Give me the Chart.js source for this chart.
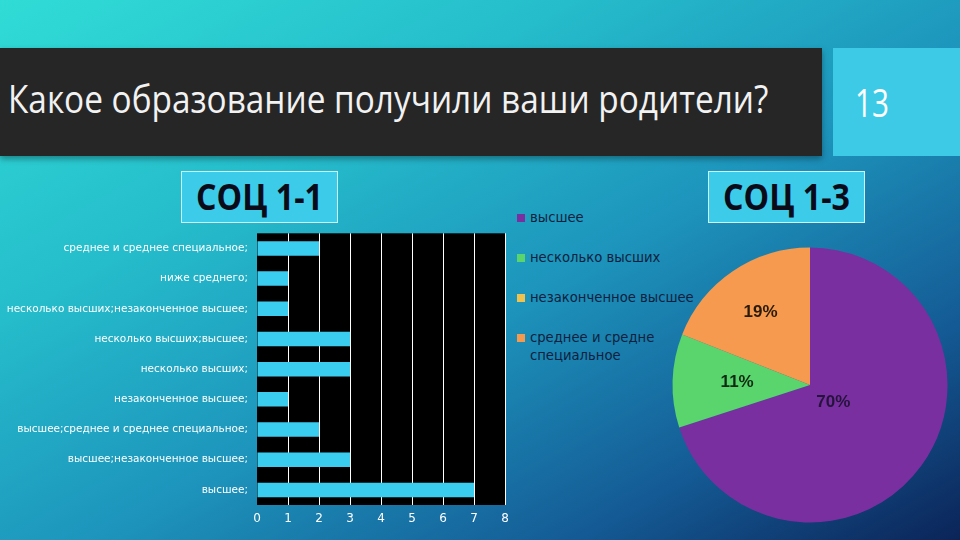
<!DOCTYPE html>
<html>
<head>
<meta charset="utf-8">
<script src="https://cdn.jsdelivr.net/npm/chart.js@4.4.0/dist/chart.umd.min.js"></script>
<style>
  html,body{margin:0;padding:0;}
  body{width:960px;height:540px;overflow:hidden;position:relative;
    background:linear-gradient(to bottom right,#30dcd6 0%,#25bccb 30%,#1d94bc 55%,#145a94 80%,#0b2458 100%);
    font-family:"DejaVu Sans",sans-serif;}
  #titlebar{position:absolute;left:0;top:48px;width:822px;height:108px;background:#262626;
    box-shadow:0 3px 6px rgba(0,0,0,0.35);}
  #title{position:absolute;left:8px;top:72px;color:#f2f2f2;font-family:"Open Sans",sans-serif;font-size:38px;line-height:normal;
    white-space:nowrap;transform:scaleX(0.878);transform-origin:0 0;}
  #numbox{position:absolute;left:833px;top:48px;width:127px;height:108px;background:#3ccae6;}
  #num{position:absolute;left:855px;top:76px;color:#ffffff;font-family:"Open Sans",sans-serif;font-size:38px;line-height:normal;
    transform:scaleX(0.78);transform-origin:0 0;}
  .tag{position:absolute;top:171px;width:155px;height:50px;background:#3ccbe8;border:1px solid rgba(255,255,255,0.75);}
  .tagt{position:absolute;left:0;top:0;width:155px;height:50px;line-height:50px;text-align:center;
    color:#0a0a18;font-family:"Open Sans",sans-serif;font-weight:700;font-size:35px;transform:scaleX(0.92);}
  #legend{position:absolute;left:517px;top:209px;}
  .li{position:relative;height:40px;}
  .sw{position:absolute;left:0;top:5px;width:8px;height:8px;}
  .lt{position:absolute;left:13px;top:0;width:175px;color:#0c1f3e;font-size:13.2px;line-height:18px;}
  #barwrap{position:absolute;left:0;top:218px;width:520px;height:322px;}
  #piewrap{position:absolute;left:665px;top:240px;width:290px;height:290px;}
</style>
</head>
<body>
<div id="titlebar"></div>
<div id="title">Какое образование получили ваши родители?</div>
<div id="numbox"></div>
<div id="num">13</div>
<div class="tag" style="left:181px;"><div class="tagt">СОЦ 1-1</div></div>
<div class="tag" style="left:708px;"><div class="tagt">СОЦ 1-3</div></div>
<div id="legend"></div>
<div id="barwrap"><canvas id="bar"></canvas></div>
<div id="piewrap"><canvas id="pie"></canvas></div>
<script>
// ---- data: СОЦ 1-1 (bar) ----
const barCategories = [
  'среднее и среднее специальное;',
  'ниже среднего;',
  'несколько высших;незаконченное высшее;',
  'несколько высших;высшее;',
  'несколько высших;',
  'незаконченное высшее;',
  'высшее;среднее и среднее специальное;',
  'высшее;незаконченное высшее;',
  'высшее;'
];
const barValues = [2, 1, 1, 3, 3, 1, 2, 3, 7];
const barAxisMin = 0;
const barAxisMax = 8;
const barAxisStep = 1;

// ---- data: СОЦ 1-3 (pie) ----
const pieLabels = ['высшее', 'несколько высших', 'незаконченное высшее', 'среднее и средне специальное'];
const pieValues = [70, 11, 0, 19];
const pieValueLabels = ['70%', '11%', '', '19%'];

// styles
const pieColors = ['#7a2fa0', '#5ad46c', '#f2c24e', '#f59a4e'];
const pieLabelColors = ['#24143c', '#0e2a12', '#2a1a08', '#2a1a08'];
const pieLabelRadius = [0.21, 0.53, 0.5, 0.64];

// legend (HTML built from the pie arrays)
const lg = document.getElementById('legend');
pieLabels.forEach((l, i) => {
  const d = document.createElement('div'); d.className = 'li';
  d.innerHTML = '<div class="sw" style="background:' + pieColors[i] + '"></div><div class="lt">' + l + '</div>';
  lg.appendChild(d);
});

const plotBg = {
  id: 'plotBg',
  beforeDraw(chart) {
    const a = chart.chartArea, c = chart.ctx;
    c.save(); c.fillStyle = '#000000'; c.fillRect(a.left, a.top, a.right - a.left, a.bottom - a.top); c.restore();
  }
};

new Chart(document.getElementById('bar'), {
  type: 'bar',
  data: {
    labels: barCategories,
    datasets: [{
      data: barValues,
      backgroundColor: '#3acdf0',
      borderWidth: 0,
      barPercentage: 0.48,
      categoryPercentage: 1.0
    }]
  },
  options: {
    indexAxis: 'y',
    responsive: true,
    maintainAspectRatio: false,
    animation: false,
    layout: { padding: { top: 1, right: 15, bottom: 0, left: 0 } },
    plugins: { legend: { display: false }, tooltip: { enabled: false } },
    scales: {
      x: {
        min: barAxisMin, max: barAxisMax,
        ticks: { stepSize: barAxisStep, color: '#ffffff', padding: 7, font: { family: 'DejaVu Sans', size: 12 } },
        grid: { color: (ctx) => ctx.index === 0 ? 'rgba(0,0,0,0)' : '#ffffff', lineWidth: 1, drawTicks: false },
        border: { display: false },
        afterFit(s) { s.height = 35; }
      },
      y: {
        ticks: { color: '#ffffff', padding: 9, font: { family: 'DejaVu Sans', size: 10.5 } },
        grid: { display: false, drawTicks: false },
        border: { display: false },
        afterFit(s) { s.width = 257; }
      }
    }
  },
  plugins: [plotBg]
});

const pieText = {
  id: 'pieText',
  afterDatasetsDraw(chart) {
    const c = chart.ctx, meta = chart.getDatasetMeta(0);
    c.save();
    c.font = 'bold 17px "Liberation Sans", Arial, sans-serif';
    c.textAlign = 'center'; c.textBaseline = 'middle';
    meta.data.forEach((arc, i) => {
      if (!pieValueLabels[i]) return;
      const p = arc.getProps(['x', 'y', 'startAngle', 'endAngle', 'outerRadius'], true);
      const m = (p.startAngle + p.endAngle) / 2;
      const r = p.outerRadius * pieLabelRadius[i];
      c.fillStyle = pieLabelColors[i];
      c.fillText(pieValueLabels[i], p.x + Math.cos(m) * r, p.y + Math.sin(m) * r);
    });
    c.restore();
  }
};

new Chart(document.getElementById('pie'), {
  type: 'pie',
  data: {
    labels: pieLabels,
    datasets: [{ data: pieValues, backgroundColor: pieColors, borderWidth: 0 }]
  },
  options: {
    responsive: true,
    maintainAspectRatio: false,
    animation: false,
    layout: { padding: 7.5 },
    plugins: { legend: { display: false }, tooltip: { enabled: false } }
  },
  plugins: [pieText]
});
</script>
</body>
</html>
